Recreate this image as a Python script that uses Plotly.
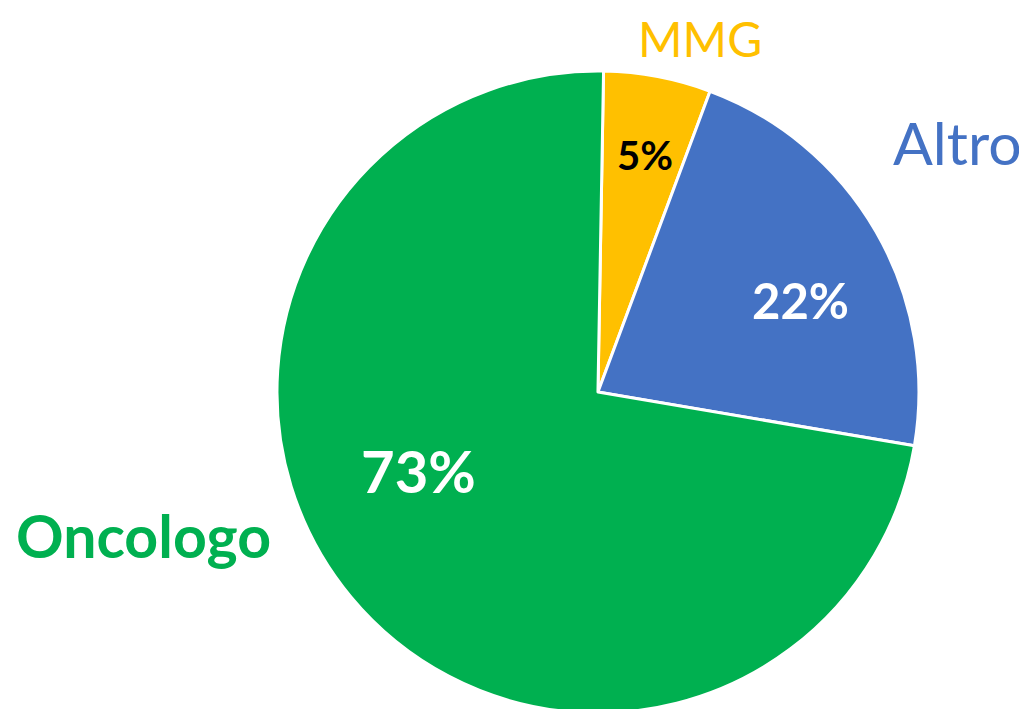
import plotly.graph_objects as go

categories = ["MMG", "Altro", "Oncologo"]
values = [5.4, 22.0, 72.6]
colors = ["#FFC000", "#4472C4", "#00B050"]
pct_colors = ["black", "white", "white"]
pct_sizes = [40, 49, 58]
# approximate label positions in pixels (from top-left of the page)
pct_pos = [(645, 155), (800, 300), (418, 470)]
cat_pos = [(700, 38), (957, 142), (143, 535)]
cat_sizes = [48, 59, 59]
cat_bold = [False, False, True]

W, H = 1027, 709
OFF = 8  # page body margin

fig = go.Figure(go.Pie(
    labels=categories,
    values=values,
    sort=False,
    direction="clockwise",
    rotation=1,
    marker=dict(colors=colors, line=dict(color="white", width=3)),
    textinfo="none",
    domain=dict(x=[0.2619, 0.8870], y=[0.0056, 0.9111]),
    showlegend=False,
    hoverinfo="label+percent",
))

font = "Lato, Open Sans, sans-serif"
total = sum(values)
for i, cat in enumerate(categories):
    px, py = pct_pos[i]
    fig.add_annotation(x=(px - OFF) / W, y=1 - (py - OFF) / H, xref="paper", yref="paper",
                       xanchor="center", yanchor="middle",
                       text="<b>%d%%</b>" % round(values[i] * 100 / total),
                       showarrow=False, font=dict(family=font, size=pct_sizes[i], color=pct_colors[i]))
    cx, cy = cat_pos[i]
    fig.add_annotation(x=(cx - OFF) / W, y=1 - (cy - OFF) / H, xref="paper", yref="paper",
                       xanchor="center", yanchor="middle",
                       text=("<b>%s</b>" % cat) if cat_bold[i] else cat,
                       showarrow=False, font=dict(family=font, size=cat_sizes[i], color=colors[i]))

fig.update_layout(
    width=W, height=H,
    margin=dict(l=0, r=0, t=0, b=0),
    paper_bgcolor="white", plot_bgcolor="white",
)
fig.write_html("out.html")
